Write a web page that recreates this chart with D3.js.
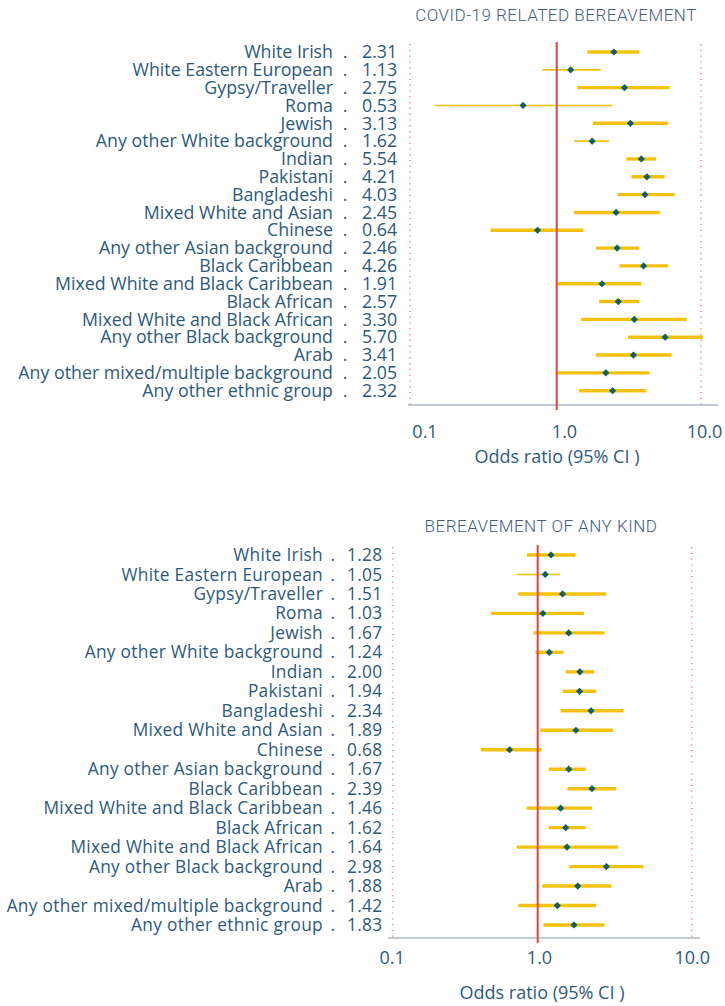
<!DOCTYPE html>
<html>
<head>
<meta charset="utf-8">
<script src="https://cdn.jsdelivr.net/npm/d3@7"></script>
<style>
  body { margin: 0; background: #fff; }
</style>
</head>
<body>
<div id="chart"></div>
<script>
// Categories (same order in both panels)
const groups = [
  "White Irish", "White Eastern European", "Gypsy/Traveller", "Roma", "Jewish",
  "Any other White background", "Indian", "Pakistani", "Bangladeshi",
  "Mixed White and Asian", "Chinese", "Any other Asian background",
  "Black Caribbean", "Mixed White and Black Caribbean", "Black African",
  "Mixed White and Black African", "Any other Black background", "Arab",
  "Any other mixed/multiple background", "Any other ethnic group"
];

// COVID-19 related bereavement
const covidLabels = ["2.31", "1.13", "2.75", "0.53", "3.13", "1.62", "5.54", "4.21", "4.03", "2.45",
                     "0.64", "2.46", "4.26", "1.91", "2.57", "3.30", "5.70", "3.41", "2.05", "2.32"];
const covidPoint = [2.49, 1.25, 2.95, 0.59, 3.24, 1.76, 3.86, 4.22, 4.09, 2.58,
                    0.74, 2.62, 4.00, 2.06, 2.67, 3.45, 5.64, 3.40, 2.19, 2.44];
const covidLow = [1.63, 0.80, 1.39, 0.147, 1.78, 1.32, 3.03, 3.29, 2.65, 1.32,
                  0.354, 1.87, 2.72, 1.00, 1.97, 1.47, 3.12, 1.87, 1.00, 1.43];
const covidHigh = [3.74, 2.02, 6.07, 2.44, 5.91, 2.31, 4.89, 5.61, 6.57, 5.18,
                   1.53, 3.74, 5.91, 3.86, 3.74, 7.94, 10.3, 6.26, 4.40, 4.17];
const covidThin = ["White Eastern European", "Roma", "Any other White background"];

// Bereavement of any kind
const anyLabels = ["1.28", "1.05", "1.51", "1.03", "1.67", "1.24", "2.00", "1.94", "2.34", "1.89",
                   "0.68", "1.67", "2.39", "1.46", "1.62", "1.64", "2.98", "1.88", "1.42", "1.83"];
const anyPoint = [1.22, 1.12, 1.45, 1.08, 1.59, 1.19, 1.88, 1.87, 2.22, 1.77,
                  0.64, 1.59, 2.25, 1.41, 1.52, 1.55, 2.79, 1.82, 1.34, 1.72];
const anyLow = [0.844, 0.716, 0.735, 0.478, 0.933, 0.963, 1.52, 1.45, 1.41, 1.04,
                0.406, 1.18, 1.56, 0.839, 1.18, 0.716, 1.60, 1.07, 0.735, 1.09];
const anyHigh = [1.76, 1.40, 2.79, 2.00, 2.72, 1.47, 2.33, 2.39, 3.60, 3.08,
                 1.06, 2.05, 3.24, 2.26, 2.05, 3.32, 4.86, 3.01, 2.39, 2.71];
const anyThin = ["White Eastern European"];

// Axis
const tickValues = [0.1, 1, 10];
const tickLabels = ["0.1", "1.0", "10.0"];

const W = 725, H = 1006;
const TEXT = "#2d5a7b";
const RED = "#e8403a";
const DOTTED = "#f08a80";
const YELLOW = "#f4c20d";
const MARK = "#0f5f69";

const svg = d3.select("#chart").append("svg")
  .attr("width", W).attr("height", H)
  .style("background", "#fff");

function drawPanel(cfg) {
  const g = svg.append("g");

  const x = d3.scaleLog().domain(tickValues).range(cfg.xRange);
  const y = d3.scalePoint().domain(groups).range([cfg.rowTop, cfg.rowBottom]);

  const rows = groups.map((name, i) => ({
    name: name,
    label: cfg.labels[i],
    point: cfg.point[i],
    low: cfg.low[i],
    high: cfg.high[i]
  }));

  // Title
  g.append("text")
    .attr("x", cfg.titleX).attr("y", cfg.titleY)
    .attr("text-anchor", "middle")
    .attr("dy", "0.35em")
    .attr("font-family", "Roboto, sans-serif")
    .attr("font-weight", 300)
    .attr("font-size", "17px")
    .attr("letter-spacing", "0.5px")
    .attr("fill", "#42607e")
    .text(cfg.title);

  // Row labels
  const lab = g.append("g")
    .attr("font-family", "'Open Sans', sans-serif")
    .attr("font-size", cfg.fontSize)
    .attr("letter-spacing", cfg.spacing)
    .attr("fill", TEXT);

  lab.selectAll(".name").data(rows).enter().append("text")
    .attr("class", "name")
    .attr("x", cfg.nameX).attr("y", d => y(d.name))
    .attr("dy", "0.35em")
    .attr("text-anchor", "end")
    .text(d => d.name);

  lab.selectAll(".sep").data(rows).enter().append("text")
    .attr("class", "sep")
    .attr("x", cfg.sepX).attr("y", d => y(d.name))
    .attr("dy", "0.35em")
    .attr("text-anchor", "middle")
    .text(".");

  lab.selectAll(".val").data(rows).enter().append("text")
    .attr("class", "val")
    .attr("x", cfg.valueX).attr("y", d => y(d.name))
    .attr("dy", "0.35em")
    .text(d => d.label);

  // Dotted reference lines at 0.1 and 10
  g.selectAll(".ref").data([0.1, 10]).enter().append("line")
    .attr("x1", d => x(d)).attr("x2", d => x(d))
    .attr("y1", cfg.rowTop - 8).attr("y2", cfg.axisY)
    .attr("stroke", DOTTED)
    .attr("stroke-width", 1.6)
    .attr("stroke-dasharray", "1.2,4.6");

  // Confidence intervals
  g.selectAll(".ci").data(rows).enter().append("line")
    .attr("x1", d => x(d.low)).attr("x2", d => x(d.high))
    .attr("y1", d => y(d.name)).attr("y2", d => y(d.name))
    .attr("stroke", YELLOW)
    .attr("stroke-width", d => cfg.thin.includes(d.name) ? 1.6 : 3.4);

  // Axis line
  g.append("line")
    .attr("x1", cfg.axisX[0]).attr("x2", cfg.axisX[1])
    .attr("y1", cfg.axisY).attr("y2", cfg.axisY)
    .attr("stroke", "#aab8c8")
    .attr("stroke-width", 1.5);

  // Line of no effect
  g.append("line")
    .attr("x1", x(1)).attr("x2", x(1))
    .attr("y1", cfg.rowTop - 10).attr("y2", cfg.axisY + 5)
    .attr("stroke", RED)
    .attr("stroke-width", 2);

  // Point estimates
  g.selectAll(".pt").data(rows).enter().append("path")
    .attr("d", d3.symbol(d3.symbolSquare, 26))
    .attr("transform", d => `translate(${x(d.point)},${y(d.name)}) rotate(45)`)
    .attr("fill", MARK);

  // Tick labels
  const lx = d3.scaleLog().domain(tickValues).range(cfg.tickRange);
  const axis = g.append("g")
    .attr("transform", `translate(0,${cfg.tickY})`)
    .call(d3.axisBottom(lx).tickValues(tickValues)
      .tickFormat((d, i) => tickLabels[i]).tickSize(0).tickPadding(0));
  axis.select(".domain").remove();
  axis.selectAll("text")
    .attr("dy", "0.35em")
    .attr("font-family", "'Open Sans', sans-serif")
    .attr("font-size", "18px")
    .attr("fill", TEXT);

  // Axis title
  g.append("text")
    .attr("x", cfg.xTitleX).attr("y", cfg.xTitleY)
    .attr("dy", "0.35em")
    .attr("text-anchor", "middle")
    .attr("font-family", "'Open Sans', sans-serif")
    .attr("font-size", "18px")
    .attr("fill", TEXT)
    .text("Odds ratio (95% CI )");
}

drawPanel({
  title: "COVID-19 RELATED BEREAVEMENT",
  titleX: 556, titleY: 15,
  labels: covidLabels, point: covidPoint, low: covidLow, high: covidHigh, thin: covidThin,
  xRange: [410, 556.7, 701],
  rowTop: 52, rowBottom: 390.7,
  nameX: 333, sepX: 345, valueX: 362,
  fontSize: "17.8px", spacing: "0px",
  axisY: 405, axisX: [408, 718],
  tickY: 432, tickRange: [424.5, 564, 704],
  xTitleX: 557, xTitleY: 457
});

drawPanel({
  title: "BEREAVEMENT OF ANY KIND",
  titleX: 541, titleY: 526,
  labels: anyLabels, point: anyPoint, low: anyLow, high: anyHigh, thin: anyThin,
  xRange: [392.7, 537.7, 691.7],
  rowTop: 555, rowBottom: 925,
  nameX: 323, sepX: 333, valueX: 347,
  fontSize: "17.3px", spacing: "0.3px",
  axisY: 938, axisX: [388, 700],
  tickY: 958, tickRange: [391.7, 539, 691.7],
  xTitleX: 542, xTitleY: 993
});
</script>
</body>
</html>
